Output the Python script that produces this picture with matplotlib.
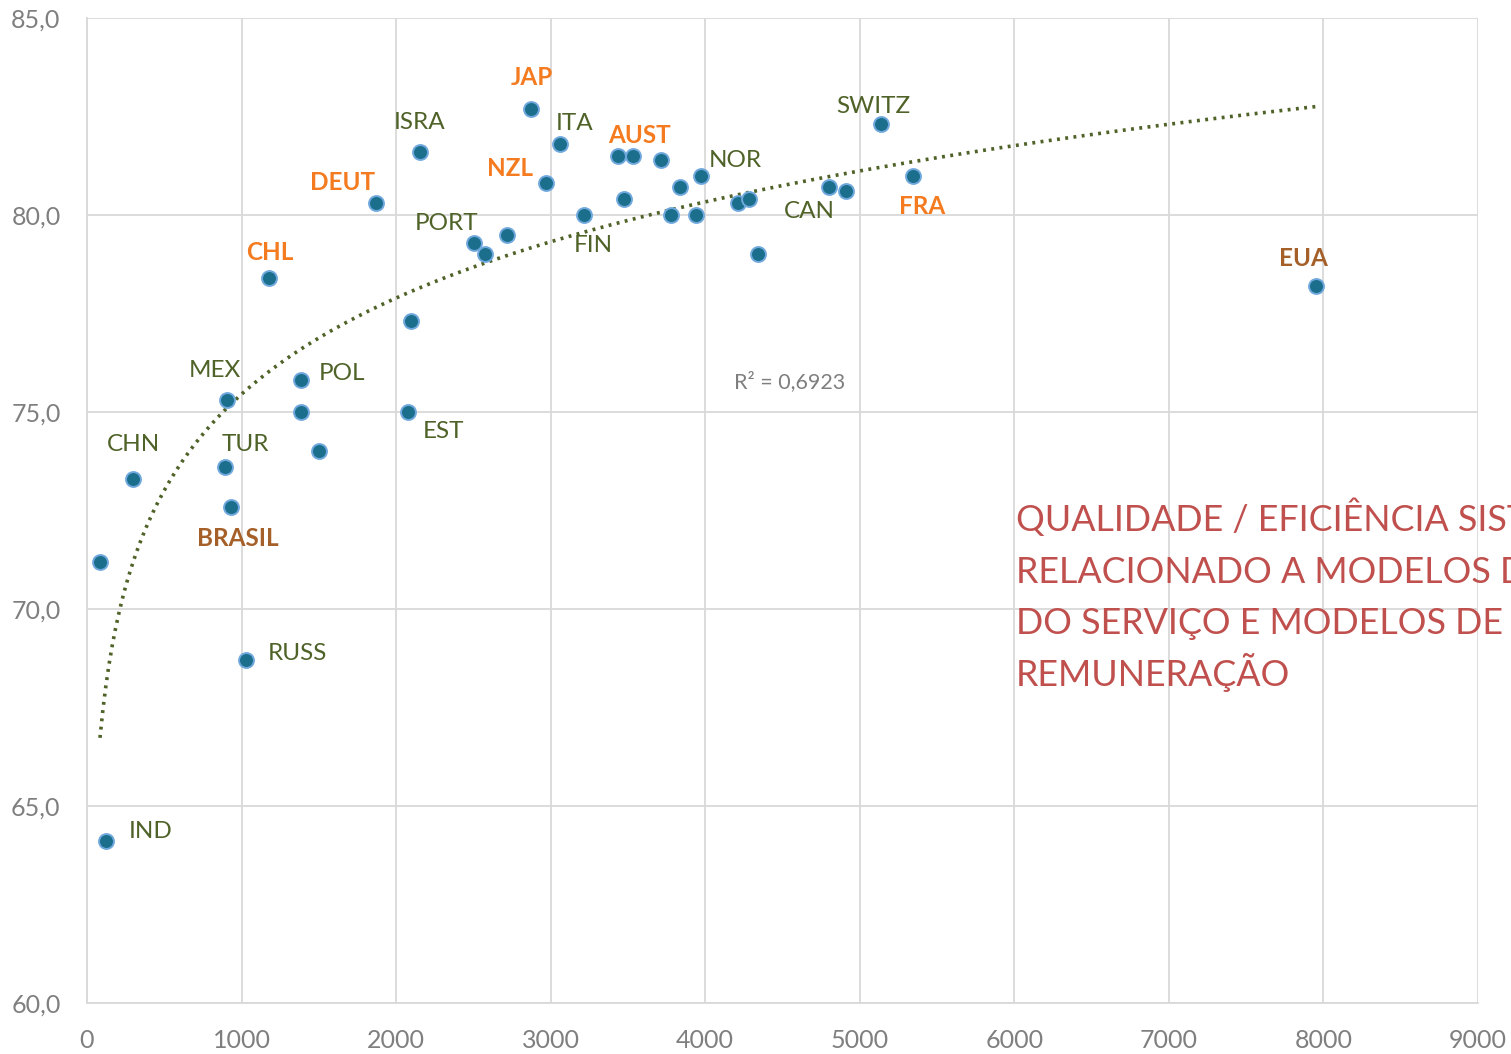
import numpy as np
import matplotlib.pyplot as plt

# spending (x) vs life expectancy (y); empty label = unlabeled point
countries = ["IND", "", "CHN", "MEX", "TUR", "BRASIL", "RUSS", "CHL", "POL", "",
             "", "EST", "", "DEUT", "ISRA", "PORT", "", "", "JAP", "NZL",
             "ITA", "FIN", "AUST", "", "", "", "", "NOR", "", "",
             "", "", "", "CAN", "", "SWITZ", "FRA", "EUA"]
spend = [123, 84, 298, 906, 893, 931, 1029, 1177, 1384, 1384,
         1501, 2077, 2096, 1869, 2154, 2503, 2574, 2717, 2872, 2969,
         3060, 3215, 3435, 3532, 3474, 3713, 3836, 3972, 3778, 3939,
         4211, 4283, 4341, 4800, 4910, 5136, 5343, 7950]
life_exp = [64.1, 71.2, 73.3, 75.3, 73.6, 72.6, 68.7, 78.4, 75.8, 75.0,
            74.0, 75.0, 77.3, 80.3, 81.6, 79.3, 79.0, 79.5, 82.7, 80.8,
            81.8, 80.0, 81.5, 81.5, 80.4, 81.4, 80.7, 81.0, 80.0, 80.0,
            80.3, 80.4, 79.0, 80.7, 80.6, 82.3, 81.0, 78.2]

orange = {"JAP", "AUST", "NZL", "DEUT", "CHL", "FRA"}
brown = {"EUA", "BRASIL"}

# label offsets in pixels relative to the point
offsets = {
    "IND": (45, 10), "CHN": (0, 34), "MEX": (-12, 30), "TUR": (20, 23),
    "BRASIL": (7, -32), "RUSS": (51, 7), "CHL": (1, 26), "POL": (41, 7),
    "EST": (35, -19), "DEUT": (-33, 21), "ISRA": (0, 29), "PORT": (-27, 19),
    "JAP": (1, 31), "NZL": (-36, 15), "ITA": (15, 21), "FIN": (9, -30),
    "AUST": (22, 20), "NOR": (34, 15), "CAN": (-19, -24), "SWITZ": (-8, 18),
    "FRA": (9, -31), "EUA": (-12, 27),
}

note_lines = ["QUALIDADE / EFICIÊNCIA SISTÊMICA",
              "RELACIONADO A MODELOS DE ORGANIZAÇÃO",
              "DO SERVIÇO E MODELOS DE",
              "REMUNERAÇÃO"]

GREEN = "#4F6228"
ORANGE = "#F47B20"
BROWN = "#A5602A"
GRID = "#D9D9D9"

plt.rcParams['font.family'] = ['Lato', 'DejaVu Sans']

fig = plt.figure(figsize=(15.11, 10.54), dpi=100)
ax = fig.add_axes([87 / 1511, 1 - 1003 / 1054, (1478 - 87) / 1511, (1003 - 18) / 1054])

ax.set_xlim(0, 9000)
ax.set_ylim(60, 85)
ax.set_xticks(np.arange(0, 9001, 1000))
ax.set_yticks(np.arange(60, 85.1, 5))
ax.set_yticklabels([f"{v:.1f}".replace(".", ",") for v in np.arange(60, 85.1, 5)])
ax.grid(True, color=GRID, linewidth=1.3)
ax.set_axisbelow(True)
for s in ax.spines.values():
    s.set_visible(False)
for side in ['left', 'bottom']:
    ax.spines[side].set_visible(True)
    ax.spines[side].set_color(GRID)
    ax.spines[side].set_linewidth(1.3)
ax.tick_params(length=0, labelsize=18, labelcolor="#7F7F7F")
ax.tick_params(axis='x', pad=19)
ax.tick_params(axis='y', pad=19)

# logarithmic trendline
x = np.array(spend, dtype=float)
y = np.array(life_exp)
a, b = np.polyfit(np.log(x), y, 1)
xs = np.linspace(x.min(), x.max(), 400)
ax.plot(xs, a * np.log(xs) + b, color=GREEN, linewidth=2.6,
        linestyle=(0, (0.8, 1.5)), zorder=2)

ax.scatter(spend, life_exp, s=115, color="#1B6E8C", edgecolors="#6FA8DC",
           linewidths=1.4, zorder=3)

for name, xv, yv in zip(countries, spend, life_exp):
    if not name:
        continue
    if name in orange:
        col, wt = ORANGE, "bold"
    elif name in brown:
        col, wt = BROWN, "bold"
    else:
        col, wt = GREEN, "normal"
    ax.annotate(name, (xv, yv), xytext=offsets[name], textcoords="offset pixels",
                ha="center", va="center", fontsize=17.5, color=col, fontweight=wt,
                zorder=4)

ax.text(4547, 75.76, "R² = 0,6923", ha="center", va="center", fontsize=15.5,
        color="#7F7F7F")

# red note, one line per text so the spacing stays even
for i, line in enumerate(note_lines):
    ax.annotate(line, (6010, 71.97), xytext=(0, -51.5 * i), textcoords="offset pixels",
                ha="left", va="baseline", fontsize=25.8, color="#C0504D",
                annotation_clip=False)

fig.savefig("out.png", dpi=100)
